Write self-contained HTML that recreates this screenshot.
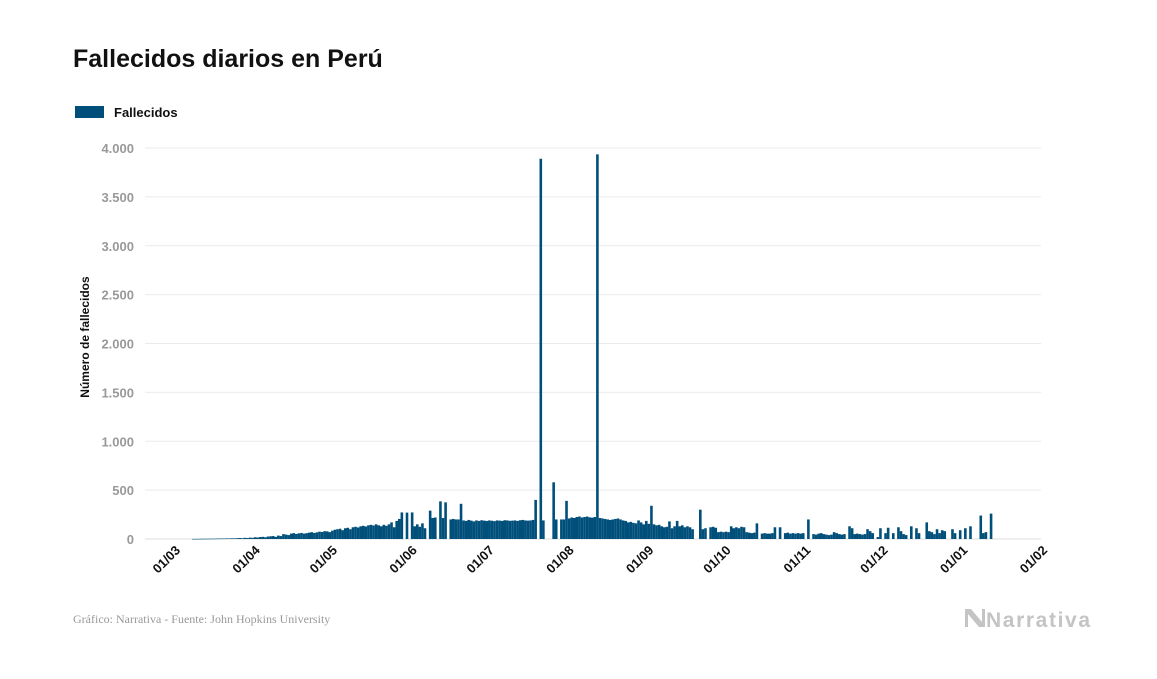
<!DOCTYPE html>
<html><head><meta charset="utf-8"><style>
body{margin:0;background:#fff;width:1157px;height:674px;overflow:hidden;font-family:"Liberation Sans",sans-serif}
</style></head><body>
<svg id="chart" width="1157" height="674" xmlns="http://www.w3.org/2000/svg">
<text x="73" y="67" font-size="25" font-weight="bold" fill="#111">Fallecidos diarios en Perú</text>
<rect x="75" y="106" width="29" height="12" fill="#004f7a"/>
<text x="114" y="117" font-size="13" font-weight="bold" fill="#111">Fallecidos</text>
<text transform="translate(89,337) rotate(-90)" text-anchor="middle" font-size="12" font-weight="bold" fill="#111">Número de fallecidos</text>
<g id="grid"></g><g id="bars"></g><g id="xt"></g>
<text x="73" y="623" font-family="Liberation Serif,serif" font-size="12" fill="#999">Gráfico: Narrativa - Fuente: John Hopkins University</text>
<g>
<path d="M965 609 L971 609 L982 622 L982 609 L985 609 L985 627 L979 627 L968 614 L968 627 L965 627 Z" fill="#c4c4c4"/>
<text x="986" y="627" font-size="21" font-weight="bold" fill="#c4c4c4" textLength="104">Narrativa</text>
</g>
</svg>
<script>
const yTicks=[0,500,1000,1500,2000,2500,3000,3500,4000];
const yTickLabels=["0","500","1.000","1.500","2.000","2.500","3.000","3.500","4.000"];
const xTickLabels=["01/03","01/04","01/05","01/06","01/07","01/08","01/09","01/10","01/11","01/12","01/01","01/02"];
const xTickDays=[0,31,61,92,122,153,184,214,245,275,306,337];
const deaths=[0,0,0,0,0,0,1,1,2,2,
2,3,3,3,4,4,5,5,5,6,
6,7,7,8,10,8,12,10,14,12,
18,15,20,22,18,25,28,30,22,35,
30,50,45,40,55,60,52,58,62,55,
60,65,70,62,68,75,72,80,78,70,
85,95,100,105,90,110,115,100,120,125,
118,130,135,128,140,145,138,150,140,130,
145,135,150,170,120,185,205,272,0,270,
0,272,130,150,125,160,110,0,290,215,
220,0,385,215,375,0,200,205,200,200,
360,190,185,195,188,180,190,185,192,188,
185,190,187,183,190,188,185,192,190,186,
188,190,185,192,195,190,188,190,195,400,
0,3890,190,0,0,0,580,200,0,200,
200,390,210,220,215,225,230,220,225,230,
222,218,225,3935,215,210,205,200,195,200,
205,210,200,190,185,170,175,165,160,190,
170,150,185,155,340,150,140,145,130,120,
125,180,110,130,185,130,140,120,130,120,
100,0,0,300,100,110,0,120,125,115,
70,75,70,75,70,130,110,120,110,125,
120,70,65,60,65,160,0,55,60,55,
55,60,120,0,120,0,60,65,55,60,
55,60,55,60,0,200,0,50,45,55,
60,50,45,40,45,70,60,50,45,50,
0,130,110,50,55,50,45,50,100,80,
60,0,20,110,0,60,115,0,60,0,
120,80,50,40,0,130,0,110,60,0,
0,170,80,70,50,100,60,90,80,0,
0,100,60,0,90,0,110,0,130,0,
0,0,240,60,70,0,260];
const NS="http://www.w3.org/2000/svg";
const x0=178,pxDay=2.573,yBase=539,pxUnit=391/4000;
const X=d=>x0+d*pxDay, Y=v=>yBase-v*pxUnit;
const grid=document.getElementById('grid');
yTicks.forEach((t,i)=>{
 const l=document.createElementNS(NS,'line');
 
 
 l.setAttribute('x1',145);l.setAttribute('x2',1041);l.setAttribute('y1',Y(t));l.setAttribute('y2',Y(t));
 l.setAttribute('stroke',i==0?'#ddd':'#ebebeb');l.setAttribute('stroke-width',1);
 grid.appendChild(l);
 const tx=document.createElementNS(NS,'text');
 
 
 tx.setAttribute('x',134);tx.setAttribute('y',Y(t)+5);tx.setAttribute('text-anchor','end');
 tx.setAttribute('font-size',13);tx.setAttribute('font-weight','bold');tx.setAttribute('fill','#999');
 tx.textContent=yTickLabels[i];grid.appendChild(tx);
});
const bars=document.getElementById('bars');
deaths.forEach((v,d)=>{
 if(v<=0)return;
 const r=document.createElementNS(NS,'rect');
 
 
 r.setAttribute('x',X(d)-1.3);r.setAttribute('width',2.6);
 r.setAttribute('y',Y(v));r.setAttribute('height',Math.max(yBase-Y(v),0.6));
 r.setAttribute('fill','#004f7a');bars.appendChild(r);
});
const xt=document.getElementById('xt');
xTickLabels.forEach((s,i)=>{
 const t=document.createElementNS(NS,'text');
 
 
 const x=X(xTickDays[i])+3,y=551;
 t.setAttribute('transform',`translate(${x},${y}) rotate(-45)`);
 t.setAttribute('text-anchor','end');t.setAttribute('font-size',13);t.setAttribute('font-weight','bold');t.setAttribute('fill','#111');
 t.textContent=s;xt.appendChild(t);
});
</script>
</body></html>
